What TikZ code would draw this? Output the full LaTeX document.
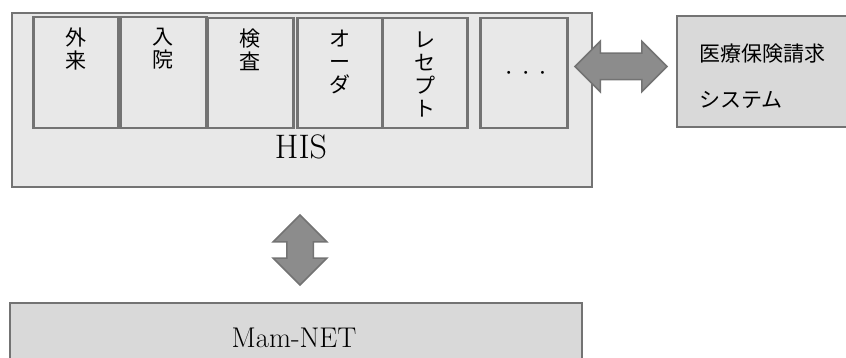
\documentclass[tikz,border=0pt]{standalone}
\usepackage{fontspec}
\newfontfamily\jpfont{Noto Sans CJK JP}
\usetikzlibrary{positioning,shapes.arrows}
\definecolor{boxfill}{HTML}{E8E8E8}
\definecolor{darkfill}{HTML}{D9D9D9}
\definecolor{edge}{HTML}{737373}
\definecolor{arrowfill}{HTML}{8C8C8C}
\tikzset{
  sysbox/.style={draw=edge, fill=boxfill, line width=2pt, anchor=north west, inner sep=0pt},
  subbox/.style={draw=edge, fill=boxfill, line width=2.5pt, anchor=north west, minimum width=85pt, minimum height=110pt, inner sep=0pt},
  jptext/.style={font=\jpfont\fontsize{21}{23}\selectfont, align=center, inner sep=0pt},
  claimtext/.style={font=\jpfont\fontsize{21}{46}\selectfont, align=left, inner sep=0pt},
  bigarrow/.style={double arrow, draw=edge, fill=arrowfill, line width=1.5pt, inner xsep=0pt, inner ysep=12.5pt, double arrow head extend=12pt}
}
\begin{document}
\begin{tikzpicture}[x=1pt,y=-1pt]
\useasboundingbox (0,0) rectangle (846,358);
% HIS and its parts
\node[sysbox, minimum width=580pt, minimum height=174pt] (his) at (11,12) {};
\node[font=\fontsize{34}{38}\selectfont, anchor=base, inner sep=0pt] (his-lbl) at (301,159) {HIS};
\node[subbox, minimum height=111pt] (gairai) at (32,16) {};
\node[subbox, minimum width=86pt, minimum height=111pt] (nyuin) at (119,16) {};
\node[subbox, minimum width=86pt] (kensa) at (206,17) {};
\node[subbox] (order) at (296,17) {};
\node[subbox] (rece) at (381,17) {};
\node[subbox, minimum width=87pt] (etc) at (479,17) {};
\node[jptext, below=12pt of gairai.north] (gairai-lbl) {外\\来};
\node[jptext, below=12pt of nyuin.north] (nyuin-lbl) {入\\院};
\node[jptext, below=12pt of kensa.north] (kensa-lbl) {検\\査};
\node[jptext, below=13pt of order.north] (order-lbl) {オ\\ー\\ダ};
\node[jptext, below=15pt of rece.north] (rece-lbl) {レ\\セ\\プ\\ト};
\node[font=\fontsize{11}{11}\selectfont, inner sep=0pt] (etc-lbl) at ([xshift=2pt]etc.center) {\textbullet\hspace{8.5pt}\textbullet\hspace{8.5pt}\textbullet};
% claim system
\node[sysbox, fill=darkfill, minimum width=220pt, minimum height=111pt] (claim) at (676,15) {};
\node[claimtext, anchor=west] (claim-lbl) at (699,76) {医療保険請求\\システム};
% Mam-NET
\node[sysbox, fill=darkfill, minimum width=572pt, minimum height=75pt] (mam) at (9,302) {};
\node[font=\fontsize{28.5}{34}\selectfont, anchor=base, inner sep=0pt] (mam-lbl) at (294,347) {Mam-NET};
% links
\node[bigarrow, minimum height=92pt] (link-claim) at (621,66.5) {};
\node[bigarrow, minimum height=70pt, rotate=90, double arrow head extend=13.5pt] (link-mam) at (300,250) {};
\end{tikzpicture}
\end{document}
